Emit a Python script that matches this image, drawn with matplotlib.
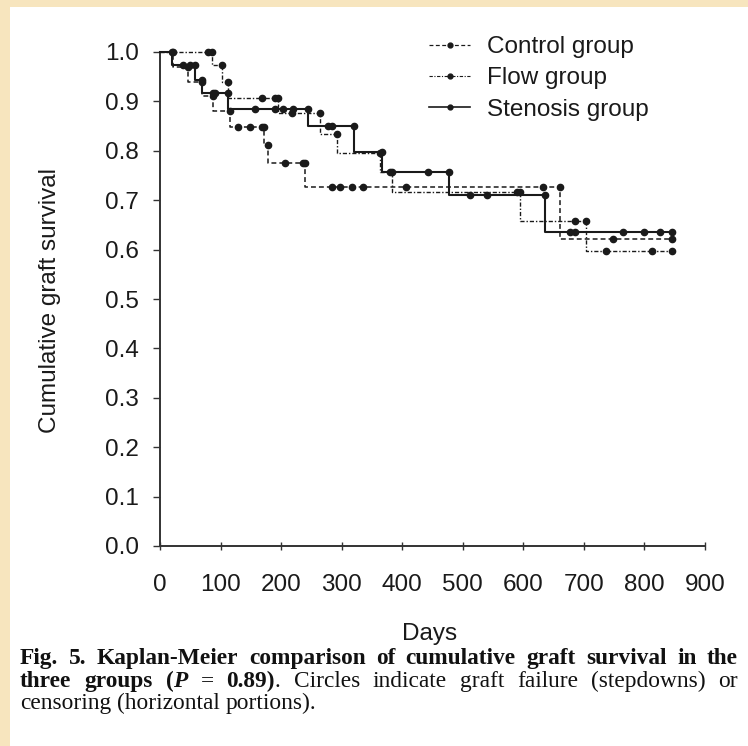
import matplotlib
matplotlib.use("Agg")
import matplotlib.pyplot as plt
from matplotlib.lines import Line2D
from matplotlib.patches import Rectangle
from matplotlib.transforms import IdentityTransform
import numpy as np

# ---------------- data ----------------
group_names = ["Control group", "Flow group", "Stenosis group"]
end_day = 845

control_event_days = [22, 46, 69, 88, 116, 172, 178, 240, 660]
control_event_surv = [0.970, 0.940, 0.910, 0.880, 0.848, 0.811, 0.775, 0.726, 0.622]
control_censor_days = [129, 148, 168, 206, 236, 284, 297, 317, 335, 407, 632, 748, 845]

flow_event_days = [86, 102, 112, 195, 264, 292, 363, 383, 594, 703]
flow_event_surv = [0.973, 0.940, 0.907, 0.876, 0.835, 0.795, 0.757, 0.716, 0.658, 0.597]
flow_censor_days = [80, 168, 190, 218, 589, 685, 737, 813, 845]

sten_event_days = [20, 58, 69, 113, 244, 320, 366, 478, 635]
sten_event_surv = [0.973, 0.943, 0.917, 0.884, 0.850, 0.797, 0.757, 0.710, 0.636]
sten_censor_days = [38, 50, 88, 91, 157, 190, 203, 220, 277, 284, 380, 442,
                    512, 540, 677, 685, 764, 800, 825, 845]

x_ticks = [0, 100, 200, 300, 400, 500, 600, 700, 800, 900]
y_ticks = [0.0, 0.1, 0.2, 0.3, 0.4, 0.5, 0.6, 0.7, 0.8, 0.9, 1.0]
x_label = "Days"
y_label = "Cumulative graft survival"

# ---------------- figure ----------------
W, H = 748, 746
fig = plt.figure(figsize=(W / 100, H / 100), dpi=100)
fig.patch.set_facecolor("#F7E5BE")
bg = Rectangle((10 / W, 0), 1, (H - 7) / H, transform=fig.transFigure,
               facecolor="white", edgecolor="none", zorder=-10)
fig.patches.append(bg)

sans = "Liberation Sans"
ink = "#1a1a1a"
fs = 17.5

ax = fig.add_axes([160 / W, (H - 546) / H, 545 / W, 494 / H])
ax.set_facecolor("none")
ax.set_zorder(2)

styles = {
    "Control group": dict(ls=(0, (3.2, 2.0)), lw=1.1),
    "Flow group": dict(ls=(0, (3.0, 1.4, 1.0, 1.4)), lw=1.0),
    "Stenosis group": dict(ls="-", lw=1.5),
}
data = {
    "Control group": (control_event_days, control_event_surv, control_censor_days),
    "Flow group": (flow_event_days, flow_event_surv, flow_censor_days),
    "Stenosis group": (sten_event_days, sten_event_surv, sten_censor_days),
}

def surv_at(days, ev_d, ev_s):
    out = []
    for d in days:
        s = 1.0
        for e, v in zip(ev_d, ev_s):
            if e <= d:
                s = v
        out.append(s)
    return out

handles = []
for name in group_names:
    ev_d, ev_s, cen = data[name]
    st = styles[name]
    xs = [0] + list(ev_d) + [end_day]
    ys = [1.0] + list(ev_s) + [ev_s[-1]]
    ax.step(xs, ys, where="post", color=ink, ls=st["ls"], lw=st["lw"], clip_on=False, zorder=3)
    prev = [1.0] + list(ev_s[:-1])
    ax.plot(ev_d, prev, "o", color=ink, ms=4.5, ls="none", clip_on=False, zorder=4)
    ax.plot(cen, surv_at(cen, ev_d, ev_s), "o", color=ink, ms=4.5, ls="none",
            clip_on=False, zorder=4)
    handles.append(Line2D([0], [0], color=ink, ls=st["ls"], lw=st["lw"] * 0.8,
                          marker="o", ms=3.5))

ax.set_xlim(0, 900)
ax.set_ylim(0, 1.0)
ax.set_xticks(x_ticks)
ax.set_yticks(y_ticks)
ax.set_yticklabels([f"{v:.1f}" for v in y_ticks])
for s in ["top", "right"]:
    ax.spines[s].set_visible(False)
for s in ["left", "bottom"]:
    ax.spines[s].set_linewidth(1.4)
    ax.spines[s].set_color("#333333")
ax.tick_params(axis="x", direction="inout", length=6, width=1.0, pad=17,
               labelsize=fs, colors="#333333", labelcolor=ink)
ax.tick_params(axis="y", direction="out", length=5, width=1.0, pad=10,
               labelsize=fs, colors="#333333", labelcolor=ink)
for lab in ax.get_xticklabels() + ax.get_yticklabels():
    lab.set_fontfamily(sans)

fig.text(430 / W, 1 - 634 / H, x_label, fontsize=fs, family=sans, color=ink,
         ha="center", va="center")
fig.text(50 / W, 1 - 300 / H, y_label, fontsize=fs, family=sans, color=ink,
         ha="center", va="center", rotation=90)

leg = fig.legend(handles, group_names, loc="upper left",
                 bbox_to_anchor=(429 / W, 1 - 36 / H), frameon=False,
                 prop={"family": sans, "size": fs}, handlelength=1.7,
                 handletextpad=0.7, labelspacing=0.38, borderpad=0,
                 borderaxespad=0, numpoints=1)
for t in leg.get_texts():
    t.set_color(ink)

# ---------------- caption (justified, serif) ----------------
serif = "Liberation Serif"
cap_fs = 16.8
B = dict(weight="bold")
BI = dict(weight="bold", style="italic")
N = dict(weight="normal")

line1 = [[(w, B)] for w in "Fig. 5. Kaplan-Meier comparison of cumulative graft survival in the".split()]
line2 = ([[("three", B)], [("groups", B)], [("(", B), ("P", BI)], [("=", N)],
          [("0.89)", B), (".", N)]]
         + [[(w, N)] for w in "Circles indicate graft failure (stepdowns) or".split()])
line3 = [[(w, N)] for w in "censoring (horizontal portions).".split()]

fig.canvas.draw()
renderer = fig.canvas.get_renderer()

def place_line(words, base_y, x0, x1, justify=True):
    arts = []
    widths = []
    for w in words:
        wa = []
        ww = 0
        for txt, props in w:
            t = fig.text(0, 0, txt, transform=IdentityTransform(), family=serif,
                         fontsize=cap_fs, color="#111111", va="baseline", ha="left", **props)
            bw = t.get_window_extent(renderer).width
            wa.append((t, bw))
            ww += bw
        arts.append(wa)
        widths.append(ww)
    sp = cap_fs * 100 / 72 * 0.25
    if justify and len(words) > 1:
        gap = (x1 - x0 - sum(widths)) / (len(words) - 1)
    else:
        gap = sp
    x = x0
    y = H - base_y
    for wa in arts:
        for t, bw in wa:
            t.set_position((x, y))
            x += bw
        x += gap

place_line(line1, 664, 20, 738)
place_line(line2, 687, 20, 738)
place_line(line3, 709, 20, 738, justify=False)

fig.savefig("out.png", dpi=100, facecolor=fig.get_facecolor())
